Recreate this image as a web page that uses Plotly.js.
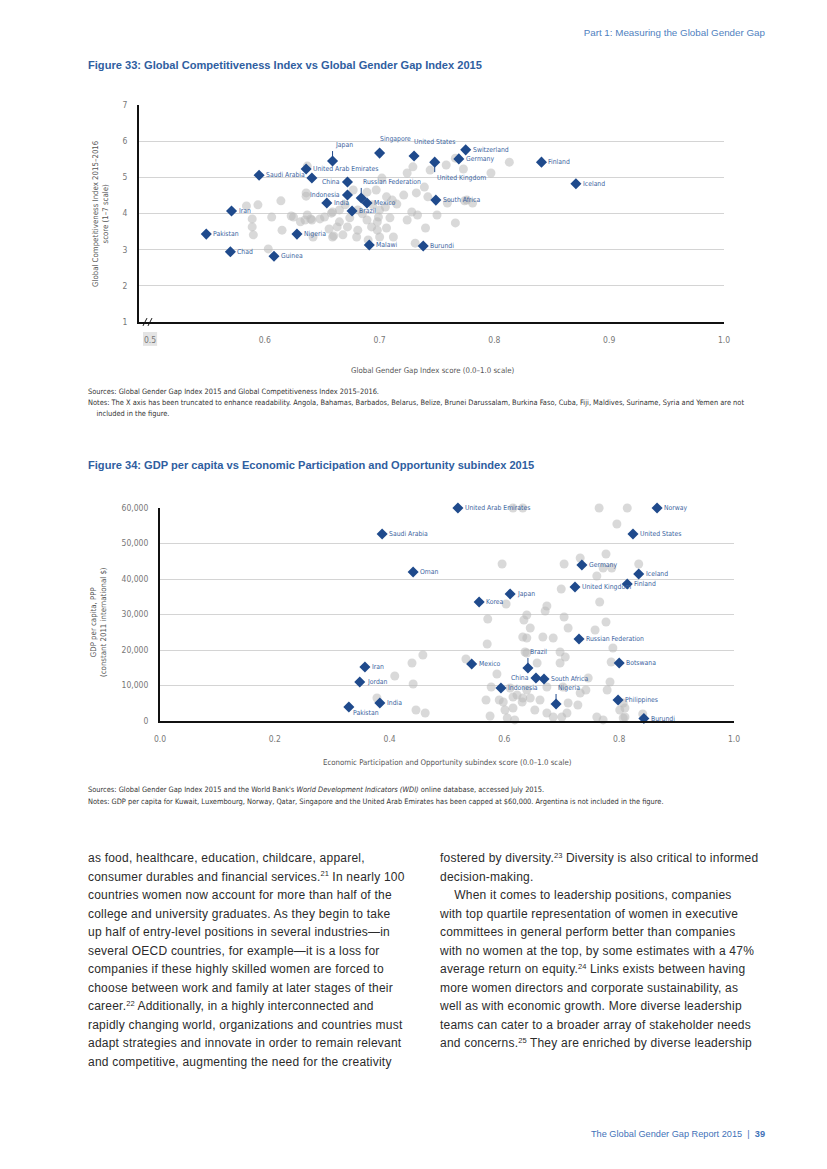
<!DOCTYPE html>
<html><head><meta charset="utf-8">
<script src="https://cdn.plot.ly/plotly-3.0.1.min.js"></script>
<style>
body{margin:0;width:827px;height:1169px;background:#fff;position:relative;overflow:hidden;font-family:"Liberation Sans",Arial,sans-serif;}
.abs{position:absolute;white-space:nowrap;}
.hdr{color:#4f7fc0;font-size:9.8px;}
.ftitle{color:#2f5e9f;font-size:11.1px;font-weight:bold;left:88px;}
.src{font-family:"Liberation Sans Narrow","DejaVu Sans Condensed",sans-serif;font-size:7.4px;color:#333;left:88px;line-height:11px;}
.body{font-size:12px;letter-spacing:0.22px;color:#2b2b2b;line-height:18.55px;}
sup{line-height:0;font-size:7.5px;vertical-align:baseline;position:relative;top:-0.55em;letter-spacing:0;}
.chart{position:absolute;left:0;width:827px;height:300px;}
</style></head><body>

<div class="abs hdr" style="right:62px;top:27px;">Part 1: Measuring the Global Gender Gap</div>
<div class="abs ftitle" style="top:59px;">Figure 33: Global Competitiveness Index vs Global Gender Gap Index 2015</div>
<div id="c33" class="chart" style="top:90px;"></div>
<div class="abs src" style="top:386px;">Sources: Global Gender Gap Index 2015 and Global Competitiveness Index 2015–2016.<br>Notes: The X axis has been truncated to enhance readability. Angola, Bahamas, Barbados, Belarus, Belize, Brunei Darussalam, Burkina Faso, Cuba, Fiji, Maldives, Suriname, Syria and Yemen are not<br>&nbsp;&nbsp;&nbsp;&nbsp;included in the figure.</div>

<div class="abs ftitle" style="top:459px;">Figure 34: GDP per capita vs Economic Participation and Opportunity subindex 2015</div>
<div id="c34" class="chart" style="top:490px;"></div>
<div class="abs src" style="top:784px;line-height:12px;">Sources: Global Gender Gap Index 2015 and the World Bank's <i>World Development Indicators (WDI)</i> online database, accessed July 2015.<br>Notes: GDP per capita for Kuwait, Luxembourg, Norway, Qatar, Singapore and the United Arab Emirates has been capped at $60,000. Argentina is not included in the figure.</div>

<div class="abs body" style="left:88px;top:849px;">as food, healthcare, education, childcare, apparel,<br>consumer durables and financial services.<sup>21</sup> In nearly 100<br>countries women now account for more than half of the<br>college and university graduates. As they begin to take<br>up half of entry-level positions in several industries—in<br>several OECD countries, for example—it is a loss for<br>companies if these highly skilled women are forced to<br>choose between work and family at later stages of their<br>career.<sup>22</sup> Additionally, in a highly interconnected and<br>rapidly changing world, organizations and countries must<br>adapt strategies and innovate in order to remain relevant<br>and competitive, augmenting the need for the creativity</div>
<div class="abs body" style="left:440px;top:849px;">fostered by diversity.<sup>23</sup> Diversity is also critical to informed<br>decision-making.<br>&nbsp;&nbsp;&nbsp;&nbsp;When it comes to leadership positions, companies<br>with top quartile representation of women in executive<br>committees in general perform better than companies<br>with no women at the top, by some estimates with a 47%<br>average return on equity.<sup>24</sup> Links exists between having<br>more women directors and corporate sustainability, as<br>well as with economic growth. More diverse leadership<br>teams can cater to a broader array of stakeholder needs<br>and concerns.<sup>25</sup> They are enriched by diverse leadership</div>

<div class="abs hdr" style="right:62px;top:1129px;color:#3f72b8;font-size:9.2px;">The Global Gender Gap Report 2015 &nbsp;|&nbsp; <b>39</b></div>

<script>
// ---------- Figure 33 data ----------
const f33Names = ["Pakistan","Chad","Iran","Saudi Arabia","Guinea","Nigeria","United Arab Emirates","","Japan","China","Indonesia","Russian Federation","India","Mexico","Brazil","Malawi","Burundi","South Africa","Singapore","United States","United Kingdom","Switzerland","Germany","Finland","Iceland"];
const f33X = [0.549,0.570,0.571,0.595,0.608,0.628,0.636,0.641,0.659,0.672,0.672,0.684,0.654,0.689,0.676,0.691,0.738,0.749,0.700,0.730,0.748,0.775,0.769,0.841,0.871];
const f33Y = [3.43,2.94,4.07,5.06,2.82,3.43,5.23,4.98,5.45,4.87,4.51,4.43,4.29,4.29,4.07,3.13,3.10,4.37,5.67,5.59,5.42,5.76,5.51,5.42,4.82];
const f33GrayX = [0.584,0.594,0.614,0.636,0.636,0.589,0.606,0.623,0.625,0.631,0.635,0.640,0.648,0.652,0.658,0.589,0.590,0.615,0.642,0.656,0.660,0.603,0.637,0.702,0.724,0.729,0.744,0.758,0.773,0.797,0.677,0.689,0.697,0.706,0.711,0.715,0.721,0.732,0.739,0.742,0.759,0.637,0.641,0.659,0.665,0.670,0.681,0.685,0.694,0.700,0.705,0.709,0.699,0.689,0.674,0.665,0.663,0.672,0.681,0.693,0.698,0.706,0.724,0.728,0.733,0.750,0.740,0.766,0.680,0.690,0.700,0.712,0.731,0.659,0.668,0.698,0.776,0.781,0.766,0.813,0.774];
const f33GrayY = [4.21,4.24,4.35,4.57,4.48,3.85,3.90,3.93,3.90,3.77,3.82,3.85,3.85,3.90,4.01,3.63,3.41,3.54,3.35,3.57,3.38,3.02,5.31,4.98,5.12,5.29,5.20,5.34,5.23,5.12,4.65,4.59,4.65,4.46,4.37,4.26,4.51,4.57,4.73,4.46,4.29,3.96,3.82,4.04,4.10,4.24,4.10,3.99,4.24,4.10,4.18,3.88,3.90,3.82,3.88,3.77,3.63,3.63,3.54,3.63,3.54,3.60,3.82,4.04,3.96,3.96,3.60,3.74,3.35,3.27,3.35,3.35,3.18,3.35,3.41,3.77,4.37,4.29,5.53,5.42,4.35];
const f33XTicks = [0.5,0.6,0.7,0.8,0.9,1.0];
const f33YTicks = [1,2,3,4,5,6,7];

// ---------- Figure 34 data ----------
const f34Names = ["United Arab Emirates","Norway","Saudi Arabia","United States","Oman","Japan","Korea","Germany","Iceland","Finland","United Kingdom","Russian Federation","Botswana","Brazil","China","South Africa","Indonesia","Nigeria","Philippines","Burundi","Mexico","Iran","Jordan","India","Pakistan"];
const f34X = [0.519,0.866,0.387,0.824,0.441,0.610,0.556,0.735,0.834,0.814,0.723,0.730,0.800,0.641,0.655,0.669,0.594,0.690,0.798,0.843,0.543,0.357,0.348,0.383,0.329];
const f34Y = [60000,60000,52680,52680,41970,35780,33520,43950,41410,38590,37750,23100,16340,14930,12110,11830,9300,4790,5920,700,16060,15210,10990,5070,3940];
const f34GrayX = [0.615,0.632,0.765,0.814,0.796,0.704,0.732,0.777,0.834,0.787,0.761,0.772,0.766,0.704,0.777,0.596,0.699,0.603,0.674,0.671,0.571,0.639,0.634,0.645,0.632,0.667,0.685,0.711,0.758,0.697,0.706,0.657,0.697,0.639,0.746,0.784,0.779,0.732,0.702,0.674,0.639,0.615,0.598,0.632,0.662,0.711,0.728,0.601,0.615,0.653,0.674,0.685,0.700,0.709,0.605,0.618,0.761,0.772,0.807,0.810,0.807,0.841,0.458,0.439,0.409,0.441,0.378,0.446,0.462,0.533,0.570,0.587,0.577,0.568,0.591,0.575,0.631,0.610,0.622,0.645,0.639,0.636,0.742,0.789,0.786,0.810,0.801];
const f34GrayY = [60000,60000,60000,60000,55490,44230,45920,47040,44230,43100,40850,43100,33520,29300,27890,44230,37180,32960,32400,30990,28730,29860,28450,26200,23660,23660,23380,26200,25630,19440,18030,16340,16340,19160,12110,10990,8730,7890,9580,9580,8730,6760,5350,6480,5920,5070,4510,3100,3660,3100,2250,1130,1130,2250,850,300,1130,300,850,3660,5070,1970,18590,16340,12680,10420,6480,3100,2250,17470,21690,13240,9580,5920,5920,1410,5350,9300,7320,6480,23380,19440,8730,20560,16620,1130,3100];
const f34XTicks = [0,0.2,0.4,0.6,0.8,1.0];
const f34YTicks = [0,10000,20000,30000,40000,50000,60000];

// ---------- label placement (style) ----------
const place33 = {"China":"l","Indonesia":"l","Japan":"up","Russian Federation":"up","United Kingdom":"down","Singapore":"top","United States":"top"};
const place34 = {"China":"l","Brazil":"up","Nigeria":"up","Pakistan":"below"};

const NARROW = '"Liberation Sans Narrow","DejaVu Sans Condensed","Arial Narrow",sans-serif';
const BLUE = '#1f4a8c';
const LBL = '#3b64a0';
const GRAY = 'rgba(185,185,185,0.55)';

function labels(names, xs, ys, place){
  const out=[];
  names.forEach((n,i)=>{
    if(!n) return;
    const m = place[n]||'r';
    const a = {x:xs[i], y:ys[i], text:n, font:{family:NARROW,size:6.8,color:LBL}, showarrow:false};
    if(m==='r'){a.xanchor='left';a.xshift=5;}
    else if(m==='l'){a.xanchor='right';a.xshift=-5;}
    else if(m==='up'){Object.assign(a,{showarrow:true,ax:0,ay:-10,xanchor:'left',yanchor:'bottom',arrowhead:0,arrowwidth:1,arrowcolor:BLUE});}
    else if(m==='down'){Object.assign(a,{showarrow:true,ax:0,ay:10,xanchor:'left',yanchor:'top',arrowhead:0,arrowwidth:1,arrowcolor:BLUE});}
    else if(m==='top'){a.xanchor='left';a.xshift=-2;a.yshift=14;}
    else if(m==='below'){a.xanchor='left';a.xshift=2;a.yshift=-6;}
    out.push(a);
  });
  return out;
}

const tickFont = {family:NARROW,size:8.5,color:'#777'};
const titleFont = {family:NARROW,size:7.8,color:'#555'};

// ---------- Figure 33 ----------
Plotly.newPlot('c33',[
  {type:'scatter',mode:'markers',x:f33GrayX,y:f33GrayY,marker:{size:9,color:GRAY},cliponaxis:false,hoverinfo:'skip'},
  {type:'scatter',mode:'markers',x:f33X,y:f33Y,marker:{symbol:'diamond',size:8.5,color:BLUE},cliponaxis:false,text:f33Names}
],{
  width:827,height:300,margin:{l:139,r:103,t:15,b:68},showlegend:false,
  paper_bgcolor:'rgba(0,0,0,0)',plot_bgcolor:'rgba(0,0,0,0)',
  xaxis:{range:[0.4904,1.0],tickvals:f33XTicks,tickformat:'.1f',showgrid:false,zeroline:false,showline:true,linecolor:'#111',linewidth:1.5,ticks:'outside',ticklen:9,tickcolor:'rgba(0,0,0,0)',tickfont:tickFont},
  yaxis:{range:[1,7],tickvals:f33YTicks,showgrid:true,gridcolor:'#d4d4d4',gridwidth:1,zeroline:false,showline:true,linecolor:'#111',linewidth:2,ticks:'outside',ticklen:8,tickcolor:'rgba(0,0,0,0)',tickfont:tickFont},
  shapes:[
    {type:'rect',xref:'paper',yref:'paper',x0:0.0068,x1:0.031,y0:-0.046,y1:-0.11,fillcolor:'#e4e4e4',line:{width:0},layer:'below'},
    {type:'line',xref:'paper',yref:'paper',x0:0.0068,y0:-0.018,x1:0.0137,y1:0.018,line:{color:'#111',width:1}},
    {type:'line',xref:'paper',yref:'paper',x0:0.0154,y0:-0.018,x1:0.0222,y1:0.018,line:{color:'#111',width:1}}
  ],
  annotations:[
    {xref:'paper',yref:'paper',x:0.503,y:0,yshift:-55,showarrow:false,text:'Global Gender Gap Index score (0.0–1.0 scale)',font:titleFont},
    {xref:'paper',yref:'paper',x:0,y:0.5,xshift:-50,showarrow:false,textangle:-90,text:'Global Competitiveness Index 2015–2016<br>score (1–7 scale)',font:titleFont}
  ].concat(labels(f33Names,f33X,f33Y,place33))
},{staticPlot:true});

// ---------- Figure 34 ----------
Plotly.newPlot('c34',[
  {type:'scatter',mode:'markers',x:f34GrayX,y:f34GrayY,marker:{size:9,color:GRAY},cliponaxis:false,hoverinfo:'skip'},
  {type:'scatter',mode:'markers',x:f34X,y:f34Y,marker:{symbol:'diamond',size:8.5,color:BLUE},cliponaxis:false,text:f34Names}
],{
  width:827,height:300,margin:{l:160,r:93,t:18,b:69},showlegend:false,
  paper_bgcolor:'rgba(0,0,0,0)',plot_bgcolor:'rgba(0,0,0,0)',
  xaxis:{range:[0,1.0],tickvals:f34XTicks,tickformat:'.1f',showgrid:false,zeroline:false,showline:true,linecolor:'#111',linewidth:1.5,ticks:'outside',ticklen:9,tickcolor:'rgba(0,0,0,0)',tickfont:tickFont},
  yaxis:{range:[0,60000],tickvals:f34YTicks,tickformat:',d',showgrid:true,gridcolor:'#d4d4d4',gridwidth:1,zeroline:false,showline:true,linecolor:'#111',linewidth:2,ticks:'outside',ticklen:8,tickcolor:'rgba(0,0,0,0)',tickfont:tickFont},
  annotations:[
    {xref:'paper',yref:'paper',x:0.5,y:0,yshift:-48,showarrow:false,text:'Economic Participation and Opportunity subindex score (0.0–1.0 scale)',font:titleFont},
    {xref:'paper',yref:'paper',x:0,y:0.5,xshift:-73,yshift:-8,showarrow:false,textangle:-90,text:'GDP per capita, PPP<br>(constant 2011 international $)',font:titleFont}
  ].concat(labels(f34Names,f34X,f34Y,place34))
},{staticPlot:true});
</script>
</body></html>
